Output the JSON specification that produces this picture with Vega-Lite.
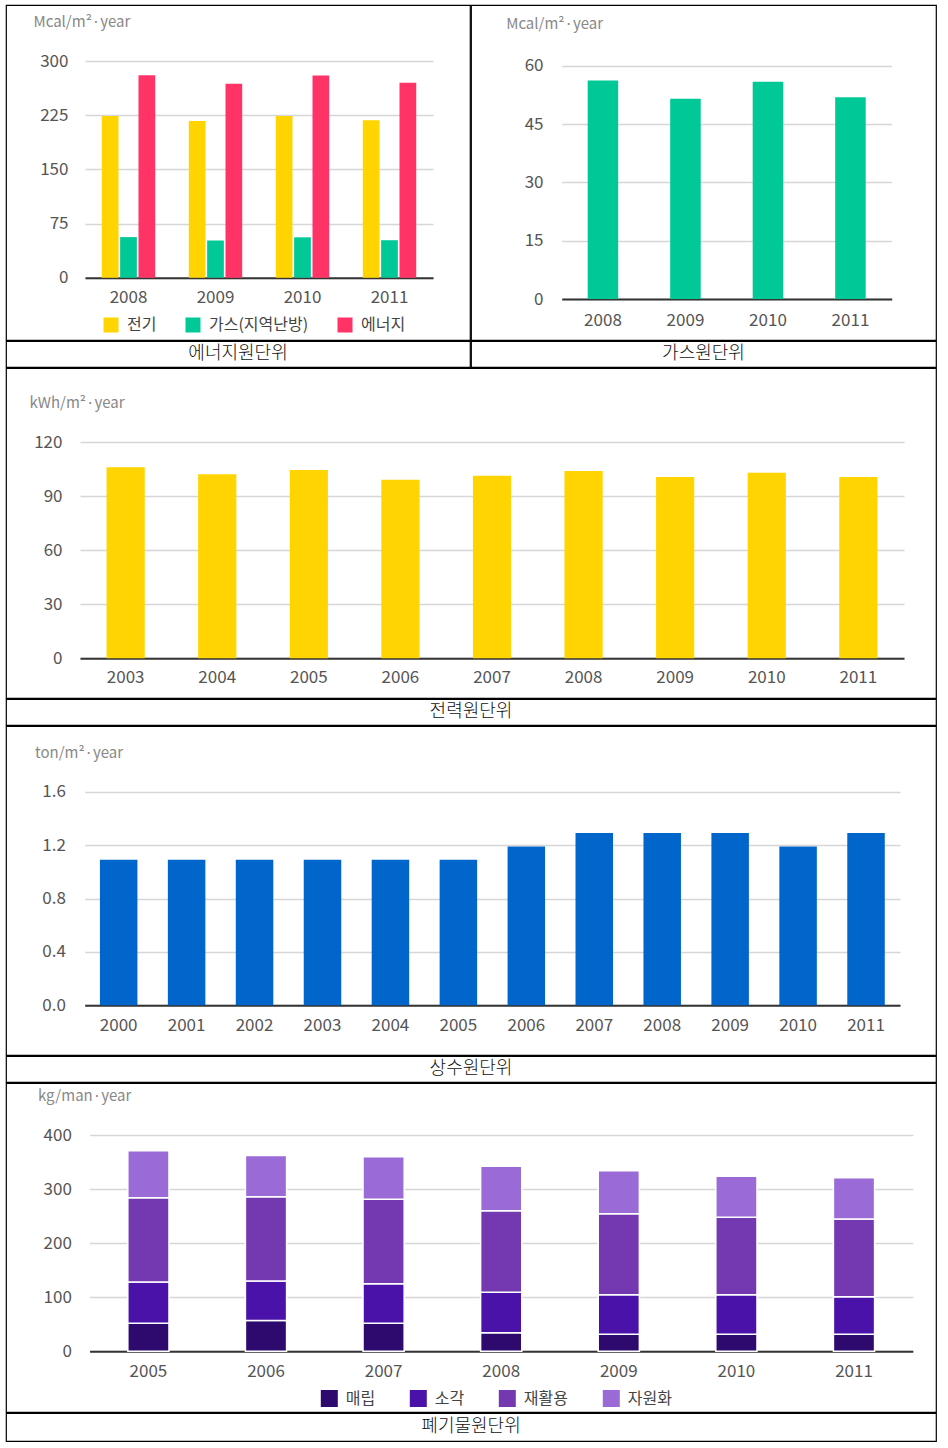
{
  "$schema": "https://vega.github.io/schema/vega-lite/v6.json",
  "padding": {"left": 5, "top": 4, "right": 5, "bottom": 5},
  "background": "white",
  "spacing": -3,
  "resolve": {"scale": {"color": "independent", "x": "independent", "y": "independent"}, "legend": {"color": "independent"}},
  "config": {
    "font": "Noto Sans CJK KR",
    "view": {"stroke": "#000", "strokeWidth": 1.2},
    "axis": {"ticks": false, "tickSize": 0, "labelFont": "Noto Sans CJK KR", "labelFontSize": 17, "labelColor": "#555", "gridColor": "#d6d6d6", "gridWidth": 1.5, "domainColor": "#333", "domainWidth": 2, "titleFont": "Noto Sans CJK KR", "titleFontSize": 15, "titleFontWeight": "normal", "titleColor": "#888"},
    "axisX": {"grid": false, "labelAngle": 0, "labelBaseline": "middle"},
    "axisY": {"domain": false, "grid": true, "titleAngle": 0, "titleAlign": "left", "titleBaseline": "middle"},
    "legend": {"labelFont": "Noto Sans CJK KR", "labelFontSize": 16, "labelColor": "#444", "symbolType": "square", "symbolStrokeWidth": 0, "labelOffset": 8, "padding": 0, "orient": "none", "direction": "horizontal"},
    "text": {"fontSize": 18, "fontWeight": 300, "color": "#111", "align": "center", "baseline": "middle"}
  },
  "datasets": {
    "energy": [
      {"year": "2008", "type": "전기", "value": 224},
      {"year": "2008", "type": "가스(지역난방)", "value": 56.2},
      {"year": "2008", "type": "에너지", "value": 280.2},
      {"year": "2009", "type": "전기", "value": 217},
      {"year": "2009", "type": "가스(지역난방)", "value": 51.5},
      {"year": "2009", "type": "에너지", "value": 268.5},
      {"year": "2010", "type": "전기", "value": 224},
      {"year": "2010", "type": "가스(지역난방)", "value": 55.9},
      {"year": "2010", "type": "에너지", "value": 280},
      {"year": "2011", "type": "전기", "value": 218},
      {"year": "2011", "type": "가스(지역난방)", "value": 51.9},
      {"year": "2011", "type": "에너지", "value": 270}
    ],
    "gas": [
      {"year": "2008", "value": 56.2},
      {"year": "2009", "value": 51.5},
      {"year": "2010", "value": 55.9},
      {"year": "2011", "value": 51.9}
    ],
    "power": [
      {"year": "2003", "value": 106.1},
      {"year": "2004", "value": 102.2},
      {"year": "2005", "value": 104.6},
      {"year": "2006", "value": 99.2},
      {"year": "2007", "value": 101.4},
      {"year": "2008", "value": 104.1},
      {"year": "2009", "value": 100.7},
      {"year": "2010", "value": 103.1},
      {"year": "2011", "value": 100.7}
    ],
    "water": [
      {"year": "2000", "value": 1.09},
      {"year": "2001", "value": 1.09},
      {"year": "2002", "value": 1.09},
      {"year": "2003", "value": 1.09},
      {"year": "2004", "value": 1.09},
      {"year": "2005", "value": 1.09},
      {"year": "2006", "value": 1.19},
      {"year": "2007", "value": 1.29},
      {"year": "2008", "value": 1.29},
      {"year": "2009", "value": 1.29},
      {"year": "2010", "value": 1.19},
      {"year": "2011", "value": 1.29}
    ],
    "waste": [
      {"year": "2005", "kind": "매립", "rank": 1, "value": 52},
      {"year": "2005", "kind": "소각", "rank": 2, "value": 76},
      {"year": "2005", "kind": "재활용", "rank": 3, "value": 156},
      {"year": "2005", "kind": "자원화", "rank": 4, "value": 87},
      {"year": "2006", "kind": "매립", "rank": 1, "value": 57},
      {"year": "2006", "kind": "소각", "rank": 2, "value": 73},
      {"year": "2006", "kind": "재활용", "rank": 3, "value": 156},
      {"year": "2006", "kind": "자원화", "rank": 4, "value": 76},
      {"year": "2007", "kind": "매립", "rank": 1, "value": 52},
      {"year": "2007", "kind": "소각", "rank": 2, "value": 73},
      {"year": "2007", "kind": "재활용", "rank": 3, "value": 156},
      {"year": "2007", "kind": "자원화", "rank": 4, "value": 79},
      {"year": "2008", "kind": "매립", "rank": 1, "value": 34.5},
      {"year": "2008", "kind": "소각", "rank": 2, "value": 74.6},
      {"year": "2008", "kind": "재활용", "rank": 3, "value": 151},
      {"year": "2008", "kind": "자원화", "rank": 4, "value": 82},
      {"year": "2009", "kind": "매립", "rank": 1, "value": 31.4},
      {"year": "2009", "kind": "소각", "rank": 2, "value": 73.4},
      {"year": "2009", "kind": "재활용", "rank": 3, "value": 149.8},
      {"year": "2009", "kind": "자원화", "rank": 4, "value": 79.5},
      {"year": "2010", "kind": "매립", "rank": 1, "value": 31.4},
      {"year": "2010", "kind": "소각", "rank": 2, "value": 73.4},
      {"year": "2010", "kind": "재활용", "rank": 3, "value": 143},
      {"year": "2010", "kind": "자원화", "rank": 4, "value": 75.8},
      {"year": "2011", "kind": "매립", "rank": 1, "value": 31.4},
      {"year": "2011", "kind": "소각", "rank": 2, "value": 69.7},
      {"year": "2011", "kind": "재활용", "rank": 3, "value": 143.6},
      {"year": "2011", "kind": "자원화", "rank": 4, "value": 76.4}
    ]
  },
  "vconcat": [
    {
      "hconcat": [
        {
          "width": 464, "height": 335,
          "data": {"name": "energy"},
          "mark": {"type": "bar"},
          "encoding": {
            "x": {"field": "year", "type": "nominal", "scale": {"range": [79, 427], "paddingInner": 0.386, "paddingOuter": 0.193}, "axis": {"title": null, "orient": "bottom", "offset": -62.3, "labelPadding": 20}},
            "xOffset": {"field": "type", "type": "nominal", "sort": ["전기", "가스(지역난방)", "에너지"], "scale": {"paddingInner": 0.09}},
            "y": {"field": "value", "type": "quantitative", "scale": {"domain": [0, 300], "range": [272.7, 56], "nice": false}, "axis": {"values": [0, 75, 150, 225, 300], "offset": -79, "labelPadding": 17, "title": "Mcal/m²·year", "titleX": -52, "titleY": 16}},
            "color": {"field": "type", "type": "nominal", "sort": ["전기", "가스(지역난방)", "에너지"], "scale": {"domain": ["전기", "가스(지역난방)", "에너지"], "range": ["#ffd400", "#00c896", "#ff3366"]}, "legend": {"title": null, "legendX": 97, "legendY": 312, "symbolSize": 225, "columnPadding": 28}}
          }
        },
        {
          "width": 465, "height": 335,
          "data": {"name": "gas"},
          "mark": {"type": "bar", "color": "#00c896"},
          "encoding": {
            "x": {"field": "year", "type": "nominal", "scale": {"range": [90.7, 420.7], "paddingInner": 0.63, "paddingOuter": 0.315}, "axis": {"title": null, "orient": "bottom", "offset": -41, "labelPadding": 21}},
            "y": {"field": "value", "type": "quantitative", "scale": {"domain": [0, 60], "range": [294, 60.7], "nice": false}, "axis": {"values": [0, 15, 30, 45, 60], "offset": -90.7, "labelPadding": 18.7, "title": "Mcal/m²·year", "titleX": -56, "titleY": 18}}
          }
        }
      ],
      "spacing": -3,
      "resolve": {"scale": {"color": "independent", "x": "independent", "y": "independent"}, "legend": {"color": "independent"}}
    },
    {
      "hconcat": [
        {"width": 464, "height": 26, "data": {"values": [{"t": "에너지원단위"}]}, "mark": {"type": "text"}, "encoding": {"text": {"field": "t"}, "x": {"field": "t", "type": "nominal", "axis": null}, "y": {"field": "t", "type": "nominal", "axis": null}}},
        {"width": 465, "height": 26, "data": {"values": [{"t": "가스원단위"}]}, "mark": {"type": "text"}, "encoding": {"text": {"field": "t"}, "x": {"field": "t", "type": "nominal", "axis": null}, "y": {"field": "t", "type": "nominal", "axis": null}}}
      ],
      "spacing": -3,
      "resolve": {"scale": {"x": "independent", "y": "independent"}}
    },
    {
      "width": 930, "height": 330,
      "data": {"name": "power"},
      "mark": {"type": "bar", "color": "#ffd400"},
      "encoding": {
        "x": {"field": "year", "type": "nominal", "scale": {"range": [74, 898], "paddingInner": 0.583, "paddingOuter": 0.29}, "axis": {"title": null, "orient": "bottom", "offset": -39.7, "labelPadding": 19.4}},
        "y": {"field": "value", "type": "quantitative", "scale": {"domain": [0, 120], "range": [290.3, 74.3], "nice": false}, "axis": {"values": [0, 30, 60, 90, 120], "offset": -74, "labelPadding": 18, "title": "kWh/m²·year", "titleX": -51, "titleY": 34.7}}
      }
    },
    {"width": 930, "height": 26, "data": {"values": [{"t": "전력원단위"}]}, "mark": {"type": "text"}, "encoding": {"text": {"field": "t"}, "x": {"field": "t", "type": "nominal", "axis": null}, "y": {"field": "t", "type": "nominal", "axis": null}}},
    {
      "width": 930, "height": 329,
      "data": {"name": "water"},
      "mark": {"type": "bar", "color": "#0066cc"},
      "encoding": {
        "x": {"field": "year", "type": "nominal", "scale": {"range": [78.7, 894], "paddingInner": 0.448, "paddingOuter": 0.224}, "axis": {"title": null, "orient": "bottom", "offset": -49.7, "labelPadding": 19.7}},
        "y": {"field": "value", "type": "quantitative", "scale": {"domain": [0, 1.6], "range": [279.3, 65.7], "nice": false}, "axis": {"values": [0, 0.4, 0.8, 1.2, 1.6], "format": ".1f", "offset": -78.7, "labelPadding": 19.3, "title": "ton/m²·year", "titleX": -50.2, "titleY": 26.7}}
      }
    },
    {"width": 930, "height": 26, "data": {"values": [{"t": "상수원단위"}]}, "mark": {"type": "text"}, "encoding": {"text": {"field": "t"}, "x": {"field": "t", "type": "nominal", "axis": null}, "y": {"field": "t", "type": "nominal", "axis": null}}},
    {
      "width": 930, "height": 329,
      "data": {"name": "waste"},
      "mark": {"type": "bar", "stroke": "white", "strokeWidth": 1.5},
      "encoding": {
        "x": {"field": "year", "type": "nominal", "scale": {"range": [83.6, 906.8], "paddingInner": 0.65, "paddingOuter": 0.325}, "axis": {"title": null, "orient": "bottom", "offset": -60.7, "labelPadding": 19.7}},
        "y": {"field": "value", "type": "quantitative", "stack": "zero", "scale": {"domain": [0, 400], "range": [268.3, 52], "nice": false}, "axis": {"values": [0, 100, 200, 300, 400], "offset": -83.6, "labelPadding": 18.2, "title": "kg/man·year", "titleX": -52.1, "titleY": 12.7}},
        "order": {"field": "rank", "type": "quantitative", "sort": "ascending"},
        "color": {"field": "kind", "type": "nominal", "scale": {"domain": ["매립", "소각", "재활용", "자원화"], "range": ["#2f0a6e", "#4a12a8", "#7438b0", "#9a6ad6"]}, "legend": {"title": null, "legendX": 314.8, "legendY": 307, "symbolSize": 289, "columnPadding": 34}}
      }
    },
    {"width": 930, "height": 28, "data": {"values": [{"t": "폐기물원단위"}]}, "mark": {"type": "text"}, "encoding": {"text": {"field": "t"}, "x": {"field": "t", "type": "nominal", "axis": null}, "y": {"field": "t", "type": "nominal", "axis": null}}}
  ]
}
